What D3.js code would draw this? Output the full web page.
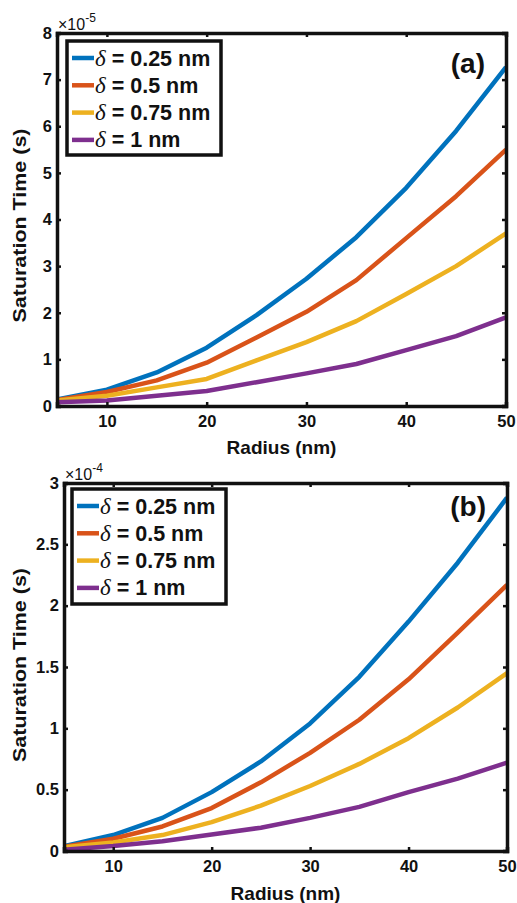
<!DOCTYPE html>
<html>
<head>
<meta charset="utf-8">
<script src="https://cdn.jsdelivr.net/npm/d3@7"></script>
<style>
  html, body { margin: 0; padding: 0; background: #fff; }
  svg { display: block; }
  text { font-family: "Liberation Sans", Arial, sans-serif; fill: #111; }
</style>
</head>
<body>
<svg id="chart" width="517" height="903"></svg>
<script>
// ---------- DATA ----------
const radius = [5, 10, 15, 20, 25, 30, 35, 40, 45, 50];
const seriesLabels = ["0.25 nm", "0.5 nm", "0.75 nm", "1 nm"];
const seriesColors = ["#0072BD", "#D95319", "#EDB120", "#7E2F8E"];

// Panel (a): saturation time ×1e-5 s
const aDelta025 = [0.14, 0.35, 0.72, 1.25, 1.95, 2.73, 3.62, 4.68, 5.9, 7.27];
const aDelta05  = [0.13, 0.3, 0.55, 0.93, 1.47, 2.02, 2.7, 3.6, 4.5, 5.5];
const aDelta075 = [0.12, 0.22, 0.4, 0.58, 0.98, 1.37, 1.82, 2.4, 3.0, 3.7];
const aDelta1   = [0.08, 0.12, 0.22, 0.32, 0.51, 0.7, 0.9, 1.2, 1.5, 1.9];
const aYTicks = [0, 1, 2, 3, 4, 5, 6, 7, 8];

// Panel (b): saturation time ×1e-4 s
const bDelta025 = [0.04, 0.13, 0.27, 0.48, 0.73, 1.04, 1.42, 1.87, 2.35, 2.88];
const bDelta05  = [0.035, 0.1, 0.2, 0.35, 0.56, 0.8, 1.07, 1.4, 1.78, 2.17];
const bDelta075 = [0.03, 0.07, 0.13, 0.235, 0.37, 0.53, 0.71, 0.92, 1.17, 1.45];
const bDelta1   = [0.01, 0.04, 0.08, 0.135, 0.19, 0.27, 0.36, 0.48, 0.59, 0.72];
const bYTicks = [0, 0.5, 1, 1.5, 2, 2.5, 3];

const xTicks = [10, 20, 30, 40, 50];

// ---------- DRAW ----------
const svg = d3.select("#chart");

function panel(opts) {
  const { left, right, top, bottom, yMax, yTicks, series, tag, expo, tickGap, titleY, legend } = opts;
  const g = svg.append("g");
  const x = d3.scaleLinear().domain([5, 50]).range([left, right]);
  const y = d3.scaleLinear().domain([0, yMax]).range([bottom, top]);

  // lines
  const line = d3.line().x((d, i) => x(radius[i])).y(d => y(d));
  series.forEach((s, k) => {
    g.append("path").datum(s)
      .attr("d", line)
      .attr("fill", "none")
      .attr("stroke", seriesColors[k])
      .attr("stroke-width", 4.5)
      .attr("stroke-linejoin", "round");
  });

  // axes (inward ticks on all sides)
  const fmt = d => String(d);
  g.append("g").attr("transform", `translate(0,${bottom})`)
    .call(d3.axisBottom(x).tickValues(xTicks).tickSize(-4).tickPadding(tickGap).tickFormat(fmt));
  g.append("g").attr("transform", `translate(0,${top})`)
    .call(d3.axisTop(x).tickValues(xTicks).tickSize(-4).tickFormat(""));
  g.append("g").attr("transform", `translate(${left},0)`)
    .call(d3.axisLeft(y).tickValues(yTicks).tickSize(-4).tickPadding(opts.yPad).tickFormat(fmt));
  g.append("g").attr("transform", `translate(${right},0)`)
    .call(d3.axisRight(y).tickValues(yTicks).tickSize(-4).tickFormat(""));
  g.selectAll(".domain").attr("stroke", "#111").attr("stroke-width", 3.5);
  g.selectAll(".tick line").attr("stroke", "#111").attr("stroke-width", 2.5);
  g.selectAll(".tick text")
    .attr("font-family", "Liberation Sans, Arial, sans-serif")
    .attr("font-size", 16.5).attr("font-weight", "bold").attr("fill", "#111");

  // exponent
  const ex = g.append("text").attr("x", left + 1).attr("y", top - 3)
    .attr("font-size", 16).attr("fill", "#111");
  ex.append("tspan").text("×10");
  ex.append("tspan").attr("dy", -8).attr("font-size", 12).text(expo);

  // axis titles
  g.append("text")
    .attr("x", (left + right) / 2).attr("y", titleY)
    .attr("text-anchor", "middle").attr("font-size", 19).attr("font-weight", "bold")
    .text("Radius (nm)");
  g.append("text")
    .attr("transform", `translate(26,${(top + bottom) / 2 + opts.yTitleShift}) rotate(-90)`)
    .attr("text-anchor", "middle").attr("font-size", 18).attr("font-weight", "bold")
    .attr("textLength", 194).attr("lengthAdjust", "spacingAndGlyphs")
    .text("Saturation Time (s)");

  // panel tag
  g.append("text")
    .attr("x", right - 21).attr("y", top + opts.tagDy)
    .attr("text-anchor", "end")
    .attr("font-family", "Open Sans, Liberation Sans, sans-serif")
    .attr("font-size", 28).attr("font-weight", "bold")
    .text(tag);

  // legend
  const lg = g.append("g");
  lg.append("rect")
    .attr("x", legend.x).attr("y", legend.y)
    .attr("width", legend.w).attr("height", legend.h)
    .attr("fill", "#fff").attr("stroke", "#111").attr("stroke-width", 3.5);
  seriesLabels.forEach((lab, k) => {
    const cy = legend.y + 17 + k * 27.3;
    lg.append("line")
      .attr("x1", legend.x + 5).attr("x2", legend.x + 27)
      .attr("y1", cy).attr("y2", cy)
      .attr("stroke", seriesColors[k]).attr("stroke-width", 4.5);
    const t = lg.append("text")
      .attr("x", legend.x + 28).attr("y", cy + 7.5)
      .attr("font-size", 21.5).attr("font-weight", "bold");
    t.append("tspan").attr("font-family", "Liberation Serif, Times New Roman, serif")
      .attr("font-style", "italic").attr("font-weight", "normal").attr("font-size", 23).text("δ");
    t.append("tspan").text(" = " + lab);
  });
}

panel({
  left: 57, right: 506, top: 33, bottom: 406, yMax: 8, yTicks: aYTicks,
  series: [aDelta025, aDelta05, aDelta075, aDelta1],
  tag: "(a)", expo: "-5", tickGap: 9, yPad: 5, titleY: 454, yTitleShift: 6, tagDy: 40,
  legend: { x: 67, y: 41, w: 154, h: 114 }
});

panel({
  left: 64, right: 507, top: 483, bottom: 851, yMax: 3, yTicks: bYTicks,
  series: [bDelta025, bDelta05, bDelta075, bDelta1],
  tag: "(b)", expo: "-4", tickGap: 9, yPad: 5, titleY: 900, yTitleShift: -2, tagDy: 33,
  legend: { x: 72, y: 489, w: 154, h: 115 }
});
</script>
</body>
</html>
